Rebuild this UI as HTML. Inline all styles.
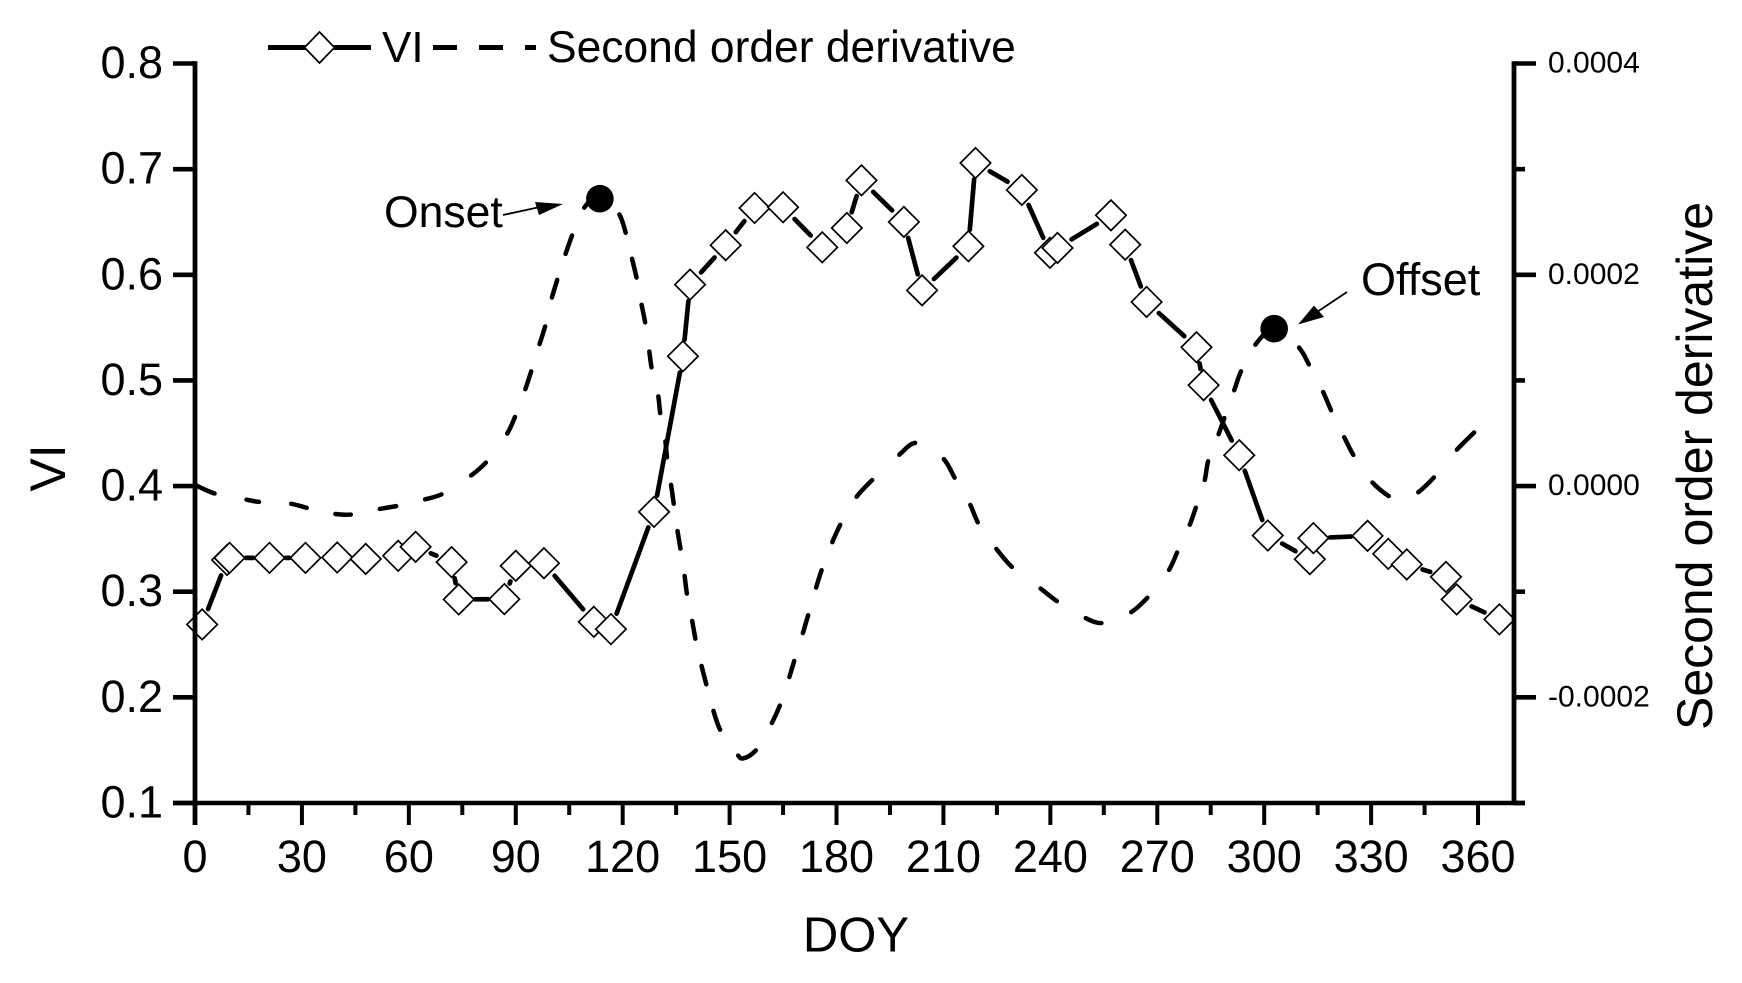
<!DOCTYPE html>
<html lang="en">
<head>
<meta charset="utf-8">
<title>VI and second order derivative by DOY</title>
<style>
html,body{margin:0;padding:0;background:#fff;}
svg{display:block;}
text{font-family:"Liberation Sans",Arial,sans-serif;fill:#000;}
</style>
</head>
<body>
<svg id="chart" xmlns="http://www.w3.org/2000/svg" width="1742" height="983" viewBox="0 0 1742 983">
  <rect x="0" y="0" width="1742" height="983" fill="#fff"/>
  <g id="deriv-layer"></g>
  <g id="vi-layer"></g>
  <g id="axes-layer"></g>
  <g id="annot-layer"></g>

  <g>
    <line x1="268" y1="47.5" x2="371" y2="47.5" stroke="#000" stroke-width="5"/>
    <polygon points="319.5,32 334.5,47.5 319.5,63 304.5,47.5" fill="#fff" stroke="#000" stroke-width="1.7"/>
    <text x="382" y="62" font-size="44">VI</text>
    <line x1="433" y1="47.5" x2="457" y2="47.5" stroke="#000" stroke-width="5"/>
    <line x1="479" y1="47.5" x2="503" y2="47.5" stroke="#000" stroke-width="5"/>
    <line x1="525" y1="47.5" x2="536" y2="47.5" stroke="#000" stroke-width="5"/>
    <text x="547" y="62" font-size="44.4">Second order derivative</text>
  </g>

  <text x="856" y="951.5" font-size="49" text-anchor="middle">DOY</text>
  <text transform="translate(65,468) rotate(-90)" font-size="50" text-anchor="middle">VI</text>
  <text transform="translate(1712,466) rotate(-90)" font-size="50" text-anchor="middle">Second order derivative</text>

  <g>
    <text x="384" y="227" font-size="44.5">Onset</text>
    <line x1="503" y1="215" x2="540" y2="207" stroke="#000" stroke-width="1.8"/>
    <polygon points="563,204 535,202 539,215" fill="#000"/>
  </g>
  <g>
    <text x="1361" y="295" font-size="45">Offset</text>
    <line x1="1347" y1="292" x2="1317" y2="312" stroke="#000" stroke-width="1.8"/>
    <polygon points="1298,324.5 1314,305.5 1324,317" fill="#000"/>
  </g>
</svg>
<script>
// ---- chart data ----
const viDoy = [2,9,9.7,20.9,31,39.9,47.9,57,61.9,72,74,86.8,90,97.9,111.9,116.7,128.8,136.9,138.9,148.9,157,165,176,182.9,187,198.9,204,217,219,232,239.9,242,257,261,267,281,283,293,301,312.8,313.8,329,334.8,340,351,354,366];
const viValues = [0.269,0.330,0.332,0.332,0.332,0.3324,0.331,0.334,0.3425,0.328,0.2927,0.293,0.3245,0.327,0.2715,0.2646,0.3756,0.5229,0.5907,0.628,0.6632,0.6639,0.626,0.6443,0.6894,0.65,0.5853,0.627,0.7058,0.6803,0.6208,0.6254,0.6563,0.6285,0.5743,0.5314,0.4955,0.4292,0.3532,0.3308,0.3507,0.3529,0.3358,0.3258,0.314,0.2927,0.2738];
const derivDoy = [0,6,13.9,18.5,26.4,31.9,38.8,44.3,51.3,57,64,69.7,77,82,87.3,90,92.5,94.5,96.5,98.4,100,101.8,103.8,106,108.9,113.8,118.8,121,122.5,124,125.2,126.4,127.4,128.2,129.9,130.6,131.9,132.5,133.5,134.4,135.3,136.3,137.3,138.1,139.4,140.5,142,143.6,145.3,147.6,152,154,157.7,161.6,164.3,166.6,168.3,170.4,172.2,174.1,176,178.6,181.3,185.3,190.4,197.2,202.6,209.7,213.4,217.3,219.9,224.5,229.6,236.8,242.3,249.4,254.9,262.2,267.6,273,275.8,278.9,281,283.2,284.4,287,289,291.4,293.7,297.2,302.8,309.4,312.8,316.3,319,322.2,325.3,330,335.4,338.5,342.8,348,353.7,359.3];
const derivValues = [0.1e-5,-0.76e-5,-1.25e-5,-1.52e-5,-1.65e-5,-2.1e-5,-2.62e-5,-2.68e-5,-2.2e-5,-1.86e-5,-1.3e-5,-0.7e-5,0.89e-5,2.37e-5,4.8e-5,6.72e-5,8.99e-5,11.04e-5,13.25e-5,15.3e-5,17.66e-5,19.7e-5,21.8e-5,23.9e-5,26.2e-5,27.6e-5,25.87e-5,23.8e-5,21.7e-5,19.55e-5,17.35e-5,15.3e-5,12.93e-5,11.04e-5,8.68e-5,6.72e-5,4.42e-5,2.53e-5,0.3e-5,-1.86e-5,-4.07e-5,-6.11e-5,-8.32e-5,-10.37e-5,-12.58e-5,-14.63e-5,-16.84e-5,-18.95e-5,-21.1e-5,-23.24e-5,-25.35e-5,-25.76e-5,-24.88e-5,-22.6e-5,-20.6e-5,-18.26e-5,-16.37e-5,-14.1e-5,-12.04e-5,-9.8e-5,-7.78e-5,-5.49e-5,-3.5e-5,-1.16e-5,0.7e-5,2.84e-5,4.1e-5,2.69e-5,0.63e-5,-1.61e-5,-3.6e-5,-5.8e-5,-7.78e-5,-9.58e-5,-11e-5,-12.42e-5,-12.96e-5,-12.04e-5,-10.43e-5,-8.1e-5,-6.11e-5,-3.84e-5,-1.86e-5,0.4e-5,2.53e-5,4.73e-5,6.62e-5,8.89e-5,11.04e-5,13.25e-5,14.9e-5,13.25e-5,11.35e-5,9.08e-5,7e-5,4.8e-5,2.78e-5,0.47e-5,-1.04e-5,-1.26e-5,-0.69e-5,0.95e-5,3.31e-5,5.2e-5];
// sample indices after which the dashed pen lifts
const derivPenLifts = [1,3,5,7,9,11,13,15,17,19,21,23,25,27,29,31,33,35,37,39,41,43,45,47,49,52,54,56,58,60,62,64,66,68,70,72,74,76,78,80,82,84,86,88,90,92,94,96,98,99,101];
const phenologyDoy = [113.6,302.8];
const phenologyValues = [2.72e-4,1.49e-4];
const phenologyNames = ['onset','offset'];
const xMajorTicks = [0,30,60,90,120,150,180,210,240,270,300,330,360];
const xMinorTicks = [15,45,75,105,135,165,195,225,255,285,315,345];
const leftTicks = [0.1,0.2,0.3,0.4,0.5,0.6,0.7,0.8];
const leftTickLabels = ['0.1','0.2','0.3','0.4','0.5','0.6','0.7','0.8'];
const rightMajorTicks = [-0.0002,0,0.0002,0.0004];
const rightMajorLabels = ['-0.0002','0.0000','0.0002','0.0004'];
const rightMinorTicks = [-0.0003,-0.0001,0.0001,0.0003];

// ---- scales ----
const plotLeft = 195, plotRight = 1514, plotTop = 63.5, plotBottom = 803;
function xScale(d){ return plotLeft + d * 3.564; }
function yLeft(v){ return plotBottom - (v - 0.1) / 0.7 * (plotBottom - plotTop); }
function yRight(v){ return plotBottom - (v + 0.0003) / 0.0007 * (plotBottom - plotTop); }

const NS = 'http://www.w3.org/2000/svg';
function make(tag, attrs, parent){
  const el = document.createElementNS(NS, tag);
  for (const k in attrs) el.setAttribute(k, attrs[k]);
  parent.appendChild(el);
  return el;
}
const axes = document.getElementById('axes-layer');
const viLayer = document.getElementById('vi-layer');
const derivLayer = document.getElementById('deriv-layer');
const annot = document.getElementById('annot-layer');

// ---- second derivative curve: Catmull-Rom spline, drawn dash by dash ----
const dp = derivDoy.map((d,i)=>[xScale(d), yRight(derivValues[i])]);
let penDown = true;
let dStr = 'M' + dp[0][0].toFixed(2) + ' ' + dp[0][1].toFixed(2);
function flushDash(){
  const dash = make('path', {d:dStr, fill:'none', stroke:'#000', 'stroke-width':4.5, 'stroke-linecap':'round', 'stroke-linejoin':'round'}, derivLayer);
  
  
  const len = dash.getTotalLength();
  if (len > 6){
    dash.setAttribute('stroke-dasharray', (len - 4).toFixed(2) + ' 2000');
    dash.setAttribute('stroke-dashoffset', '-2');
  }
}
for (let i = 0; i < dp.length - 1; i++){
  const p0 = dp[Math.max(i-1,0)], p1 = dp[i], p2 = dp[i+1], p3 = dp[Math.min(i+2,dp.length-1)];
  if (derivPenLifts.indexOf(i) >= 0){
    if (penDown) flushDash();
    penDown = false;
    continue;
  }
  if (!penDown){
    dStr = 'M' + p1[0].toFixed(2) + ' ' + p1[1].toFixed(2);
    penDown = true;
  }
  const c1x = p1[0] + (p2[0]-p0[0])/6, c1y = p1[1] + (p2[1]-p0[1])/6;
  const c2x = p2[0] - (p3[0]-p1[0])/6, c2y = p2[1] - (p3[1]-p1[1])/6;
  dStr += 'C' + c1x.toFixed(2)+' '+c1y.toFixed(2)+' '+c2x.toFixed(2)+' '+c2y.toFixed(2)+' '+p2[0].toFixed(2)+' '+p2[1].toFixed(2);
}
if (penDown) flushDash();

// ---- VI line with gaps around the markers ----
const gapRadius = 16.5;
const vp = viDoy.map((d,i)=>[xScale(d), yLeft(viValues[i])]);
for (let i = 0; i < vp.length - 1; i++){
  const a = vp[i], b = vp[i+1];
  const dx = b[0]-a[0], dy = b[1]-a[1], len = Math.hypot(dx,dy);
  if (len <= 2*gapRadius) continue;
  const ux = dx/len, uy = dy/len;
  const seg = make('line', {x1:a[0]+ux*gapRadius, y1:a[1]+uy*gapRadius, x2:b[0]-ux*gapRadius, y2:b[1]-uy*gapRadius, stroke:'#000', 'stroke-width':4.7, 'stroke-linecap':'round'}, viLayer);
  
  
}
const R = 15.2;
vp.forEach(function(p){
  const pts = [p[0],p[1]-R, p[0]+R,p[1], p[0],p[1]+R, p[0]-R,p[1]].map(n=>n.toFixed(2));
  const m = make('polygon', {points:pts[0]+','+pts[1]+' '+pts[2]+','+pts[3]+' '+pts[4]+','+pts[5]+' '+pts[6]+','+pts[7], fill:'#fff', stroke:'#000', 'stroke-width':1.7}, viLayer);
  
  
});

// ---- phenology points ----
phenologyDoy.forEach(function(d,i){
  const c = make('circle', {cx:xScale(d), cy:yRight(phenologyValues[i]), r:13.8, fill:'#000'}, annot);
  
  
});

// ---- axes ----
const leftAxis = make('line', {x1:plotLeft, y1:plotTop-2.2, x2:plotLeft, y2:825, stroke:'#000', 'stroke-width':4.8}, axes);


const rightAxis = make('line', {x1:plotRight, y1:plotTop-2.2, x2:plotRight, y2:plotBottom+2, stroke:'#000', 'stroke-width':4.8}, axes);


const bottomAxis = make('line', {x1:173, y1:plotBottom, x2:1525, y2:plotBottom, stroke:'#000', 'stroke-width':4.6}, axes);



xMajorTicks.forEach(function(d){
  const t = make('line', {x1:xScale(d), y1:plotBottom, x2:xScale(d), y2:825, stroke:'#000', 'stroke-width':4}, axes);
  
  
  const l = make('text', {x:xScale(d), y:872, 'font-size':45, 'text-anchor':'middle'}, axes);
  
  
  l.textContent = String(d);
});
xMinorTicks.forEach(function(d){
  const t = make('line', {x1:xScale(d), y1:plotBottom, x2:xScale(d), y2:815, stroke:'#000', 'stroke-width':4}, axes);
  
  
});
leftTicks.forEach(function(v,i){
  const t = make('line', {x1:173, y1:yLeft(v), x2:plotLeft, y2:yLeft(v), stroke:'#000', 'stroke-width':4.6}, axes);
  
  
  const l = make('text', {x:163, y:yLeft(v)+14.5, 'font-size':45, 'text-anchor':'end'}, axes);
  
  
  l.textContent = leftTickLabels[i];
});
rightMajorTicks.forEach(function(v,i){
  const t = make('line', {x1:plotRight, y1:yRight(v), x2:1536, y2:yRight(v), stroke:'#000', 'stroke-width':4.6}, axes);
  
  
  const l = make('text', {x:1548, y:yRight(v)+9, 'font-size':30}, axes);
  
  
  l.textContent = rightMajorLabels[i];
});
rightMinorTicks.forEach(function(v){
  const t = make('line', {x1:plotRight, y1:yRight(v), x2:1525, y2:yRight(v), stroke:'#000', 'stroke-width':4.6}, axes);
  
  
});
</script>
</body>
</html>
